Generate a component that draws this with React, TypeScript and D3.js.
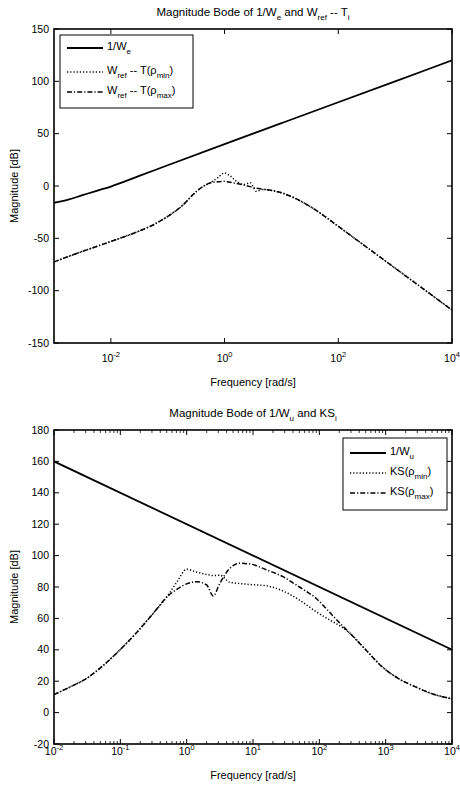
import * as d3 from "d3";

// ---- top panel: 1/We and Wref - T ----
const weFreq = [1e-3, 1.78e-3, 3.16e-3, 5.62e-3, 1e-2, 3.16e-2, 1e-1, 1, 10, 100, 1e3, 1e4];
const weMag = [-16, -13, -8.8, -4.6, -0.5, 9.6, 19.8, 40, 60, 80, 100, 120];

const tFreq = [
  1e-3, 3.16e-3, 1e-2, 3.16e-2, 5.62e-2, 0.1, 0.178, 0.316, 0.447, 0.562, 0.759, 1, 1.26, 1.58,
  2.14, 2.82, 3.63, 4.79, 7.08, 10, 17.8, 31.6, 56.2, 100, 316, 1e3, 3162, 1e4,
];
const tMinMag = [
  -72.5, -62.5, -53, -43, -37, -29, -19, -5.5, 0.5, 3, 8, 12.5, 9.5, 5, 1.5, 3, -5, -3.2, -4.5,
  -6.5, -12, -19.5, -28.5, -38.5, -58.5, -78.5, -98.5, -118.5,
];
const tMaxMag = [
  -72.5, -62.5, -53, -43, -37, -29, -19, -5.5, 0.5, 3, 4, 4.5, 3.5, 2.5, 1, -0.6, -2.2, -3.2, -4.5,
  -6.5, -12, -19.5, -28.5, -38.5, -58.5, -78.5, -98.5, -118.5,
];

const topYTicks = [-150, -100, -50, 0, 50, 100, 150];
const topXTickExps = [-2, 0, 2, 4];

// ---- bottom panel: 1/Wu and KS ----
const wuFreq = [1e-2, 1e4];
const wuMag = [160, 40];

const ksFreq = [
  0.01, 0.0178, 0.0316, 0.0562, 0.1, 0.178, 0.316, 0.501, 0.708, 1, 1.41, 2.0, 2.51, 3.16, 4.47,
  6.31, 8.91, 15.8, 28.2, 50.1, 89.1, 158, 209, 282, 501, 891, 1585, 2818, 5012, 1e4,
];
const ksMinMag = [
  11.5, 16.5, 22, 30.3, 40.2, 51.2, 63.4, 73.6, 83, 91.3, 89.5, 88, 87.3, 87.5, 83, 82.2, 81.6,
  80.8, 77.5, 71.7, 64.3, 58, 55, 51, 40, 29.1, 21.5, 16.4, 12, 8.8,
];
const ksMaxMag = [
  11.5, 16.5, 22, 30.3, 40.2, 51.2, 63.4, 73.6, 78.5, 82, 83.4, 81.3, 74.3, 82.3, 91.9, 95.1, 94.7,
  91, 86.6, 80, 72.8, 61.9, 56.5, 51, 40, 29.1, 21.5, 16.4, 12, 8.8,
];

const botYTicks = [-20, 0, 20, 40, 60, 80, 100, 120, 140, 160, 180];
const botXTickExps = [-2, -1, 0, 1, 2, 3, 4];

const FONT = "'Liberation Sans', Arial, Helvetica, sans-serif";
const DOTTED = "1.2 2";
const DASHDOT = "5 2 1.2 2";

type Part = { t: string; sub?: boolean };
type Series = { freq: number[]; mag: number[]; dash?: string; width: number };
type LegendRow = { parts: Part[]; dash?: string; width: number };

function Rich({ parts, subSize = 8 }: { parts: Part[]; subSize?: number }) {
  let shift = 0;
  return (
    <>
      {parts.map((p, i) => {
        const target = p.sub ? 3.5 : 0;
        const dy = target - shift;
        shift = target;
        return (
          <tspan key={i} dy={dy} fontSize={p.sub ? subSize : undefined}>
            {p.t}
          </tspan>
        );
      })}
    </>
  );
}

function Panel({
  top,
  bottom,
  left,
  right,
  xDomain,
  yDomain,
  yTicks,
  xTickExps,
  minor,
  xLabelGap,
  title,
  series,
  legend,
}: {
  top: number;
  bottom: number;
  left: number;
  right: number;
  xDomain: [number, number];
  yDomain: [number, number];
  yTicks: number[];
  xTickExps: number[];
  minor: boolean;
  xLabelGap: number;
  title: Part[];
  series: Series[];
  legend: { x: number; y: number; w: number; h: number; rows: LegendRow[]; rowY: number[] };
}) {
  const x = d3.scaleLog().domain(xDomain).range([left, right]);
  const y = d3.scaleLinear().domain(yDomain).range([bottom, top]);
  const line = d3
    .line<[number, number]>()
    .x((d) => x(d[0]))
    .y((d) => y(d[1]))
    .curve(d3.curveMonotoneX);

  const minorVals: number[] = [];
  if (minor) {
    const lo = Math.round(Math.log10(xDomain[0]));
    const hi = Math.round(Math.log10(xDomain[1]));
    for (let e = lo; e < hi; e++) for (let m = 2; m < 10; m++) minorVals.push(m * Math.pow(10, e));
  }
  const T = 5;
  const Tm = 3;
  const midY = (top + bottom) / 2;
  const midX = (left + right) / 2;

  return (
    <g fontFamily={FONT} fill="#000">
      <clipPath id={`clip${top}`}>
        <rect x={left} y={top} width={right - left} height={bottom - top} />
      </clipPath>
      <g clipPath={`url(#clip${top})`}>
        {series.map((s, i) => (
          <path
            key={i}
            d={line(s.freq.map((f, j) => [f, s.mag[j]] as [number, number])) ?? ""}
            fill="none"
            stroke="#000"
            strokeWidth={s.width}
            strokeDasharray={s.dash}
          />
        ))}
      </g>

      {/* ticks */}
      {yTicks.map((v) => (
        <g key={v}>
          <line x1={left} x2={left + T} y1={y(v)} y2={y(v)} stroke="#000" strokeWidth={1} />
          <line x1={right} x2={right - T} y1={y(v)} y2={y(v)} stroke="#000" strokeWidth={1} />
          <text x={left - 5} y={y(v) + 3.5} textAnchor="end" fontSize={10.5}>
            {v}
          </text>
        </g>
      ))}
      {xTickExps.map((e) => {
        const px = x(Math.pow(10, e));
        return (
          <g key={e}>
            <line x1={px} x2={px} y1={bottom} y2={bottom - T} stroke="#000" strokeWidth={1} />
            <line x1={px} x2={px} y1={top} y2={top + T} stroke="#000" strokeWidth={1} />
            <text x={px} y={bottom + xLabelGap} textAnchor="middle" fontSize={10.5}>
              <tspan>10</tspan>
              <tspan dy={-5} fontSize={7.5}>
                {e}
              </tspan>
            </text>
          </g>
        );
      })}
      {minorVals.map((v) => (
        <g key={v}>
          <line x1={x(v)} x2={x(v)} y1={bottom} y2={bottom - Tm} stroke="#000" strokeWidth={0.8} />
          <line x1={x(v)} x2={x(v)} y1={top} y2={top + Tm} stroke="#000" strokeWidth={0.8} />
        </g>
      ))}

      <rect
        x={left}
        y={top}
        width={right - left}
        height={bottom - top}
        fill="none"
        stroke="#000"
        strokeWidth={1.6}
      />

      {/* labels */}
      <text x={midX} y={top - 13} textAnchor="middle" fontSize={11.5}>
        <Rich parts={title} />
      </text>
      <text x={midX} y={bottom + xLabelGap + 24} textAnchor="middle" fontSize={11}>
        Frequency [rad/s]
      </text>
      <text
        transform={`translate(18,${midY}) rotate(-90)`}
        textAnchor="middle"
        fontSize={11}
      >
        Magnitude [dB]
      </text>

      {/* legend */}
      <rect
        x={legend.x}
        y={legend.y}
        width={legend.w}
        height={legend.h}
        fill="#fff"
        stroke="#000"
        strokeWidth={1}
      />
      {legend.rows.map((r, i) => {
        const ry = legend.rowY[i];
        return (
          <g key={i}>
            <line
              x1={legend.x + 7}
              x2={legend.x + 43}
              y1={ry}
              y2={ry}
              stroke="#000"
              strokeWidth={r.width}
              strokeDasharray={r.dash}
            />
            <text x={legend.x + 47} y={ry + 2} fontSize={11}>
              <Rich parts={r.parts} />
            </text>
          </g>
        );
      })}
    </g>
  );
}

export default function App() {
  return (
    <svg
      width={460}
      height={786}
      style={{ position: "absolute", left: 0, top: 0, background: "#fff" }}
    >
      <rect width={460} height={786} fill="#fff" />
      <Panel
        top={29}
        bottom={343}
        left={54}
        right={452}
        xDomain={[1e-3, 1e4]}
        yDomain={[-150, 150]}
        yTicks={topYTicks}
        xTickExps={topXTickExps}
        minor={false}
        xLabelGap={19}
        title={[
          { t: "Magnitude Bode of 1/W" },
          { t: "e", sub: true },
          { t: " and W" },
          { t: "ref", sub: true },
          { t: " -- T" },
          { t: "i", sub: true },
        ]}
        series={[
          { freq: weFreq, mag: weMag, width: 1.8 },
          { freq: tFreq, mag: tMinMag, dash: DOTTED, width: 1.5 },
          { freq: tFreq, mag: tMaxMag, dash: DASHDOT, width: 1.5 },
        ]}
        legend={{
          x: 60,
          y: 35,
          w: 133,
          h: 73,
          rowY: [48, 72, 92],
          rows: [
            { parts: [{ t: "1/W" }, { t: "e", sub: true }], width: 1.8 },
            {
              parts: [{ t: "W" }, { t: "ref", sub: true }, { t: " -- T(ρ" }, { t: "min", sub: true }, { t: ")" }],
              dash: DOTTED,
              width: 1.5,
            },
            {
              parts: [{ t: "W" }, { t: "ref", sub: true }, { t: " -- T(ρ" }, { t: "max", sub: true }, { t: ")" }],
              dash: DASHDOT,
              width: 1.5,
            },
          ],
        }}
      />
      <Panel
        top={430}
        bottom={744}
        left={54}
        right={452}
        xDomain={[1e-2, 1e4]}
        yDomain={[-20, 180]}
        yTicks={botYTicks}
        xTickExps={botXTickExps}
        minor={true}
        xLabelGap={11}
        title={[{ t: "Magnitude Bode of 1/W" }, { t: "u", sub: true }, { t: " and KS" }, { t: "i", sub: true }]}
        series={[
          { freq: wuFreq, mag: wuMag, width: 1.8 },
          { freq: ksFreq, mag: ksMinMag, dash: DOTTED, width: 1.5 },
          { freq: ksFreq, mag: ksMaxMag, dash: DASHDOT, width: 1.5 },
        ]}
        legend={{
          x: 343,
          y: 438,
          w: 104,
          h: 72,
          rowY: [453, 473, 493],
          rows: [
            { parts: [{ t: "1/W" }, { t: "u", sub: true }], width: 1.8 },
            { parts: [{ t: "KS(ρ" }, { t: "min", sub: true }, { t: ")" }], dash: DOTTED, width: 1.5 },
            { parts: [{ t: "KS(ρ" }, { t: "max", sub: true }, { t: ")" }], dash: DASHDOT, width: 1.5 },
          ],
        }}
      />
    </svg>
  );
}
